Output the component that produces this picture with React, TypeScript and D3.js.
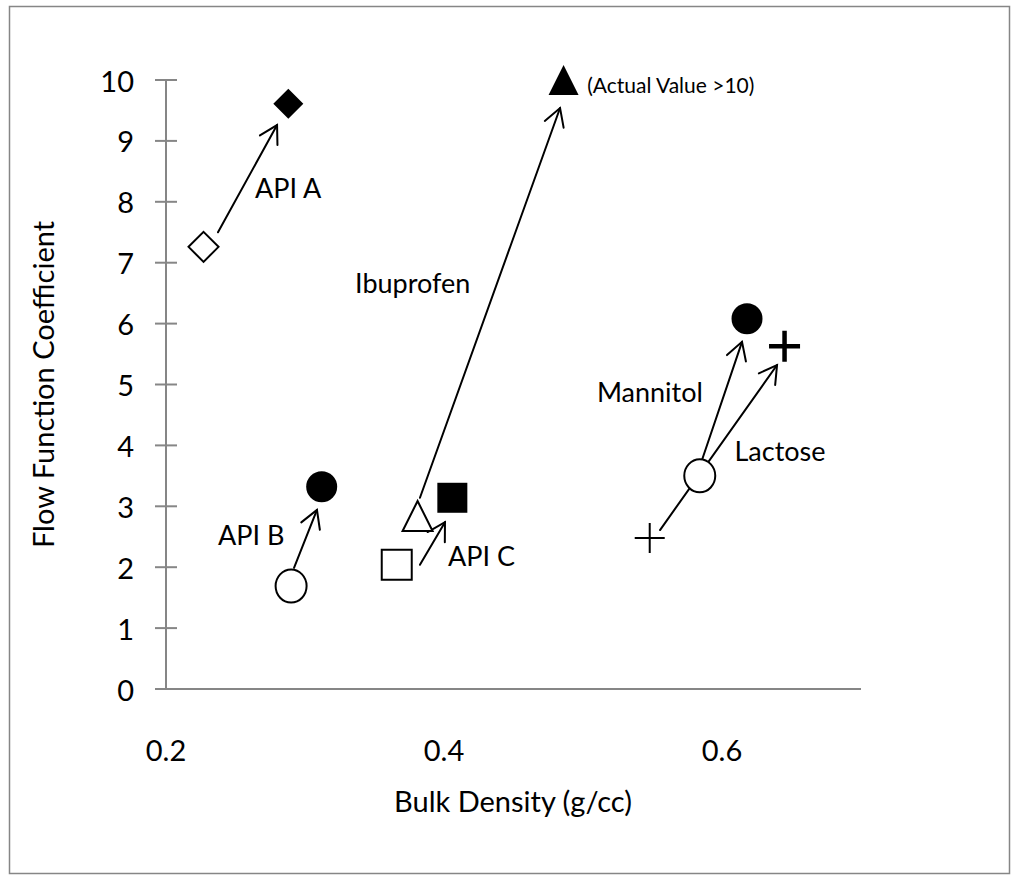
import React from "react";
import * as d3 from "d3";

const seriesNames = ["API A", "API B", "API C", "Ibuprofen", "Mannitol", "Lactose"];
const markerShapes = ["diamond", "circle", "square", "triangle", "circle", "plus"];
const beforeX = [0.227, 0.290, 0.366, 0.381, 0.584, 0.548];
const beforeY = [7.26, 1.69, 2.04, 2.84, 3.5, 2.48];
const afterX = [0.288, 0.312, 0.406, 0.486, 0.618, 0.645];
const afterY = [9.61, 3.32, 3.14, 10.0, 6.08, 5.63];

const arrowStartX = [0.2374, 0.2921, 0.3827, 0.3827, 0.5856, 0.5554];
const arrowStartY = [7.5, 1.99, 2.04, 3.14, 3.76, 2.61];
const arrowEndX = [0.2799, 0.3086, 0.4007, 0.4835, 0.6144, 0.6396];
const arrowEndY = [9.26, 2.94, 2.74, 9.54, 5.7, 5.32];

const labelX = [0.264, 0.2374, 0.4029, 0.336, 0.51, 0.609];
const labelY = [8.24, 2.53, 2.2, 6.68, 4.89, 3.91];

const noteText = "(Actual Value >10)";
const noteX = 0.503;
const noteY = 9.92;

const xTicks = [0.2, 0.4, 0.6];
const yTicks = [0, 1, 2, 3, 4, 5, 6, 7, 8, 9, 10];

const W = 1019;
const H = 879;
const FONT = "Lato, 'Open Sans', sans-serif";
const AXIS = "#868686";

function markerPath(shape: string, cx: number, cy: number, s: number): string {
  const h = s / 2;
  if (shape === "diamond") return `M${cx},${cy - h}L${cx + h},${cy}L${cx},${cy + h}L${cx - h},${cy}Z`;
  if (shape === "square") return `M${cx - h},${cy - h}H${cx + h}V${cy + h}H${cx - h}Z`;
  if (shape === "triangle") return `M${cx},${cy - h}L${cx + h},${cy + h}L${cx - h},${cy + h}Z`;
  if (shape === "plus") return `M${cx - h},${cy}H${cx + h}M${cx},${cy - h}V${cy + h}`;
  return "";
}

function Marker({ shape, cx, cy, filled }: { shape: string; cx: number; cy: number; filled: boolean }) {
  if (shape === "circle") {
    return filled ? (
      <circle cx={cx} cy={cy} r={15.5} fill="#000" />
    ) : (
      <ellipse cx={cx} cy={cy} rx={15.5} ry={16.5} fill="#fff" stroke="#000" strokeWidth={2} />
    );
  }
  if (shape === "plus") {
    return (
      <path
        d={markerPath(shape, cx, cy, filled ? 31 : 30)}
        fill="none"
        stroke="#000"
        strokeWidth={filled ? 4.5 : 2}
      />
    );
  }
  return (
    <path
      d={markerPath(shape, cx, cy, 30)}
      fill={filled ? "#000" : "#fff"}
      stroke="#000"
      strokeWidth={filled ? 0 : 2}
      strokeLinejoin="miter"
    />
  );
}

export default function App() {
  const x = d3.scaleLinear().domain([0.2, 0.7]).range([166, 861]);
  const y = d3.scaleLinear().domain([0, 10]).range([689, 80]);

  const arrows = seriesNames.map((_, i) => {
    const x1 = x(arrowStartX[i]);
    const y1 = y(arrowStartY[i]);
    const x2 = x(arrowEndX[i]);
    const y2 = y(arrowEndY[i]);
    const ang = Math.atan2(y1 - y2, x1 - x2);
    const len = 20;
    const spread = (30 * Math.PI) / 180;
    const ax = x2 + len * Math.cos(ang + spread);
    const ay = y2 + len * Math.sin(ang + spread);
    const bx = x2 + len * Math.cos(ang - spread);
    const by = y2 + len * Math.sin(ang - spread);
    return { x1, y1, x2, y2, ax, ay, bx, by };
  });

  return (
    <div style={{ position: "absolute", left: 0, top: 0 }}>
      <svg width={W} height={H} style={{ display: "block", background: "#fff" }}>
        <rect x={9.5} y={6.5} width={1000} height={867} fill="#fff" stroke={AXIS} strokeWidth={1.5} />

        {/* axes */}
        <line x1={x(0.2)} x2={x(0.7)} y1={y(0)} y2={y(0)} stroke={AXIS} strokeWidth={2} />
        <line x1={x(0.2)} x2={x(0.2)} y1={y(0)} y2={y(10)} stroke={AXIS} strokeWidth={2} />
        {yTicks.map((t) => (
          <line key={"yt" + t} x1={x(0.2) - 11} x2={x(0.2) + 11} y1={y(t)} y2={y(t)} stroke={AXIS} strokeWidth={2} />
        ))}
        {yTicks.map((t) => (
          <text
            key={"yl" + t}
            x={134}
            y={y(t)}
            textAnchor="end"
            dominantBaseline="central"
            fontFamily={FONT}
            fontSize={29}
            fill="#000"
          >
            {t}
          </text>
        ))}
        {xTicks.map((t) => (
          <text
            key={"xl" + t}
            x={x(t)}
            y={749}
            textAnchor="middle"
            dominantBaseline="central"
            fontFamily={FONT}
            fontSize={29}
            fill="#000"
          >
            {d3.format(".1f")(t)}
          </text>
        ))}
        <text x={513} y={800} textAnchor="middle" dominantBaseline="central" fontFamily={FONT} fontSize={29} fill="#000">
          Bulk Density (g/cc)
        </text>
        <text
          transform={`translate(42,${(y(0) + y(10)) / 2}) rotate(-90)`}
          textAnchor="middle"
          dominantBaseline="central"
          fontFamily={FONT}
          fontSize={29}
          fill="#000"
        >
          Flow Function Coefficient
        </text>

        {/* arrows */}
        {arrows.map((a, i) => (
          <g key={"ar" + i} stroke="#000" strokeWidth={2} fill="none" strokeLinecap="round">
            <line x1={a.x1} y1={a.y1} x2={a.x2} y2={a.y2} />
            <polyline points={`${a.ax},${a.ay} ${a.x2},${a.y2} ${a.bx},${a.by}`} strokeLinejoin="miter" />
          </g>
        ))}

        {/* markers */}
        {seriesNames.map((n, i) => (
          <g key={"m" + n}>
            <Marker shape={markerShapes[i]} cx={x(beforeX[i])} cy={y(beforeY[i])} filled={false} />
            <Marker shape={markerShapes[i]} cx={x(afterX[i])} cy={y(afterY[i])} filled={true} />
          </g>
        ))}

        {/* labels */}
        {seriesNames.map((n, i) => (
          <text
            key={"lb" + n}
            x={x(labelX[i])}
            y={y(labelY[i])}
            dominantBaseline="central"
            fontFamily={FONT}
            fontSize={27}
            fill="#000"
          >
            {n}
          </text>
        ))}
        <text x={x(noteX)} y={y(noteY)} dominantBaseline="central" fontFamily={FONT} fontSize={21} fill="#000">
          {noteText}
        </text>
      </svg>
    </div>
  );
}
